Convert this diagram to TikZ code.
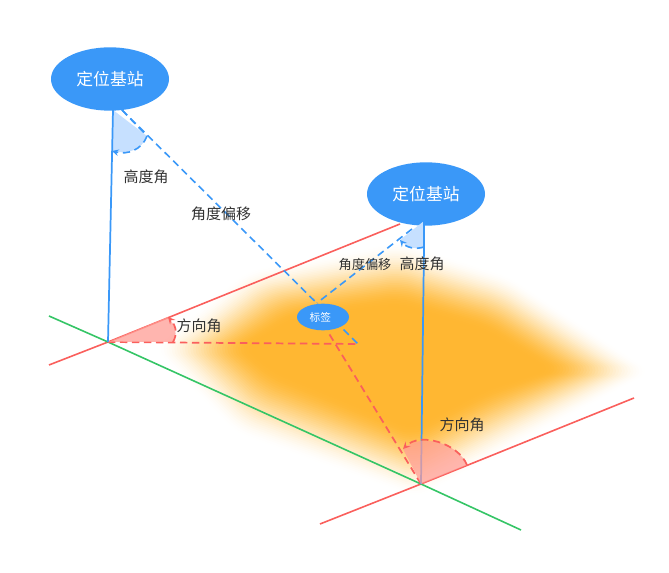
\documentclass[tikz,border=0pt]{standalone}
\usepackage{fontspec}
\setmainfont{Noto Sans CJK SC}
\usetikzlibrary{calc}
\usetikzlibrary{shapes.geometric}
\definecolor{stationblue}{HTML}{3A98F8}
\definecolor{sectorblue}{HTML}{C6E0FF}
\definecolor{linered}{HTML}{FA5F5C}
\definecolor{sectorred}{HTML}{FF9C94}
\definecolor{linegreen}{HTML}{35C566}
\definecolor{heatorange}{HTML}{FFB732}
\definecolor{textgrey}{HTML}{333333}
\tikzset{
	station/.style={ellipse, fill=stationblue, text=white, inner sep=0pt, minimum width=88.5pt, minimum height=47.5pt, font=\fontsize{12.6}{13}\selectfont},
	tagnode/.style={ellipse, fill=stationblue, text=white, inner sep=0pt, minimum width=39pt, minimum height=20pt, font=\fontsize{8}{9}\selectfont},
	caption/.style={text=textgrey, inner sep=0pt, font=\fontsize{11.25}{12}\selectfont},
	smallcaption/.style={text=textgrey, inner sep=0pt, font=\fontsize{9.9}{10}\selectfont},
	solidblue/.style={draw=stationblue, line width=1.3pt},
	dashblue/.style={draw=stationblue, line width=1.2pt, dash pattern=on 5.5pt off 3.5pt},
	solidred/.style={draw=linered, line width=1.2pt},
	dashred/.style={draw=linered, line width=1.3pt, dash pattern=on 5.5pt off 3.5pt},
	solidgreen/.style={draw=linegreen, line width=1.2pt}
}
\begin{document}
\begin{tikzpicture}[x=0.75pt,y=-0.75pt]
			
			\useasboundingbox (0,0) rectangle (669,573);
			
			\coordinate (G1) at (108,342);
			\coordinate (G2) at (421,484);
			\coordinate (P) at (358,344);
			\coordinate (R1a) at (49,365);
			\coordinate (R1b) at (400,224);
			\coordinate (R2a) at (320,524);
			\coordinate (R2b) at (634,398);
			\coordinate (Ga) at (49,316);
			\coordinate (Gb) at (521,530);
			\coordinate (T1) at (113,110);
			\coordinate (T2) at (424,221);
			\coordinate (D1) at (122,110);
			\coordinate (D2) at (412,229);
			\coordinate (Tag1) at (317,303);
			\coordinate (Tag2) at (328,332);
			
			% heat area
			\coordinate (Ho1) at (150,348);
			\coordinate (Ho2) at (245,270);
			\coordinate (Ho3) at (400,240);
			\coordinate (Ho4) at (510,275);
			\coordinate (Ho5) at (655,372);
			\coordinate (Ho6) at (510,450);
			\coordinate (Ho7) at (418,500);
			\coordinate (Ho8) at (235,435);
			\coordinate (Hi1) at (245,348);
			\coordinate (Hi2) at (295,318);
			\coordinate (Hi3) at (400,305);
			\coordinate (Hi4) at (485,330);
			\coordinate (Hi5) at (550,370);
			\coordinate (Hi6) at (485,390);
			\coordinate (Hi7) at (412,428);
			\coordinate (Hi8) at (275,372);
			\foreach \k in {1,...,36}{
				\pgfmathsetmacro{\tnow}{\k/36}
				\pgfmathsetmacro{\told}{(\k-1)/36}
				\pgfmathsetmacro{\cnow}{\tnow*\tnow*(3-2*\tnow)}
				\pgfmathsetmacro{\cold}{\told*\told*(3-2*\told)}
				\pgfmathsetmacro{\alay}{1-(1-\cnow)/(1-\cold)}
				\fill[heatorange, fill opacity=\alay, rounded corners=10pt]
					($(Ho1)!\tnow!(Hi1)$) -- ($(Ho2)!\tnow!(Hi2)$) -- ($(Ho3)!\tnow!(Hi3)$) -- ($(Ho4)!\tnow!(Hi4)$)
					-- ($(Ho5)!\tnow!(Hi5)$) -- ($(Ho6)!\tnow!(Hi6)$) -- ($(Ho7)!\tnow!(Hi7)$) -- ($(Ho8)!\tnow!(Hi8)$) -- cycle;
			}
			
			\draw[solidred] (R1a) -- (G1) -- (R1b);
			\draw[solidred] (R2a) -- (G2) -- (R2b);
			\draw[solidgreen] (Ga) -- (G1) -- (G2) -- (Gb);
			
			\draw[dashred] (G1) -- (P);
			\draw[dashred] (G2) -- (Tag2);
			\draw[dashblue] (D1) -- (P);
			\draw[dashblue] (D2) -- (Tag1);
			
			\node[station] (S1) at (110,79) {定位基站};
			\node[station] (S2) at (426,194) {定位基站};
			\node[tagnode] (Tag) at (323,317) {\hspace*{-4pt}标签};
			
			% angles at the first station
			\coordinate (A1s) at (147,136);
			\coordinate (A1e) at (112,151);
			\fill[sectorblue] (T1) -- (A1s) .. controls (142,150) and (127,155) .. (A1e) -- cycle;
			\draw[dashblue, -stealth] (A1s) .. controls (142,150) and (127,155) .. (A1e);
			\draw[dashblue] (D1) -- (A1s);
			\draw[solidblue] (T1) -- (G1);
			
			% angles at the second station
			\coordinate (A2s) at (424,247);
			\coordinate (A2e) at (400,240);
			\fill[sectorblue] (T2) -- (A2s) .. controls (415,250) and (406,247) .. (A2e) -- cycle;
			\draw[dashblue, -stealth] (A2s) .. controls (415,250) and (406,247) .. (A2e);
			\draw[solidblue] (A2s) -- (G2);
			\draw[stationblue, line width=1.1pt] (T2) -- (A2s);
			
			% ground angles
			\coordinate (B1s) at (173,342);
			\coordinate (B1e) at (168,317);
			\fill[sectorred, fill opacity=0.75] (G1) -- (B1s) .. controls (177,335) and (177,327) .. (B1e) -- cycle;
			\draw[dashred, -stealth] (B1s) .. controls (177,335) and (177,327) .. (B1e);
			
			\coordinate (B2s) at (467,465);
			\coordinate (B2e) at (403,449);
			\fill[sectorred, fill opacity=0.72] (G2) -- (B2s) .. controls (458,443) and (420,432) .. (B2e) -- cycle;
			\draw[dashred, -stealth] (B2s) .. controls (458,443) and (420,432) .. (B2e);
			
			\node[caption] (H1) at (146,177) {高度角};
			\node[caption] (O1) at (221,214) {角度偏移};
			\node[smallcaption] (O2) at (365,265) {角度偏移};
			\node[caption] (H2) at (422,264) {高度角};
			\node[caption] (F1) at (199,326) {方向角};
			\node[caption] (F2) at (462,425) {方向角};
			
			\end{tikzpicture}
\end{document}
